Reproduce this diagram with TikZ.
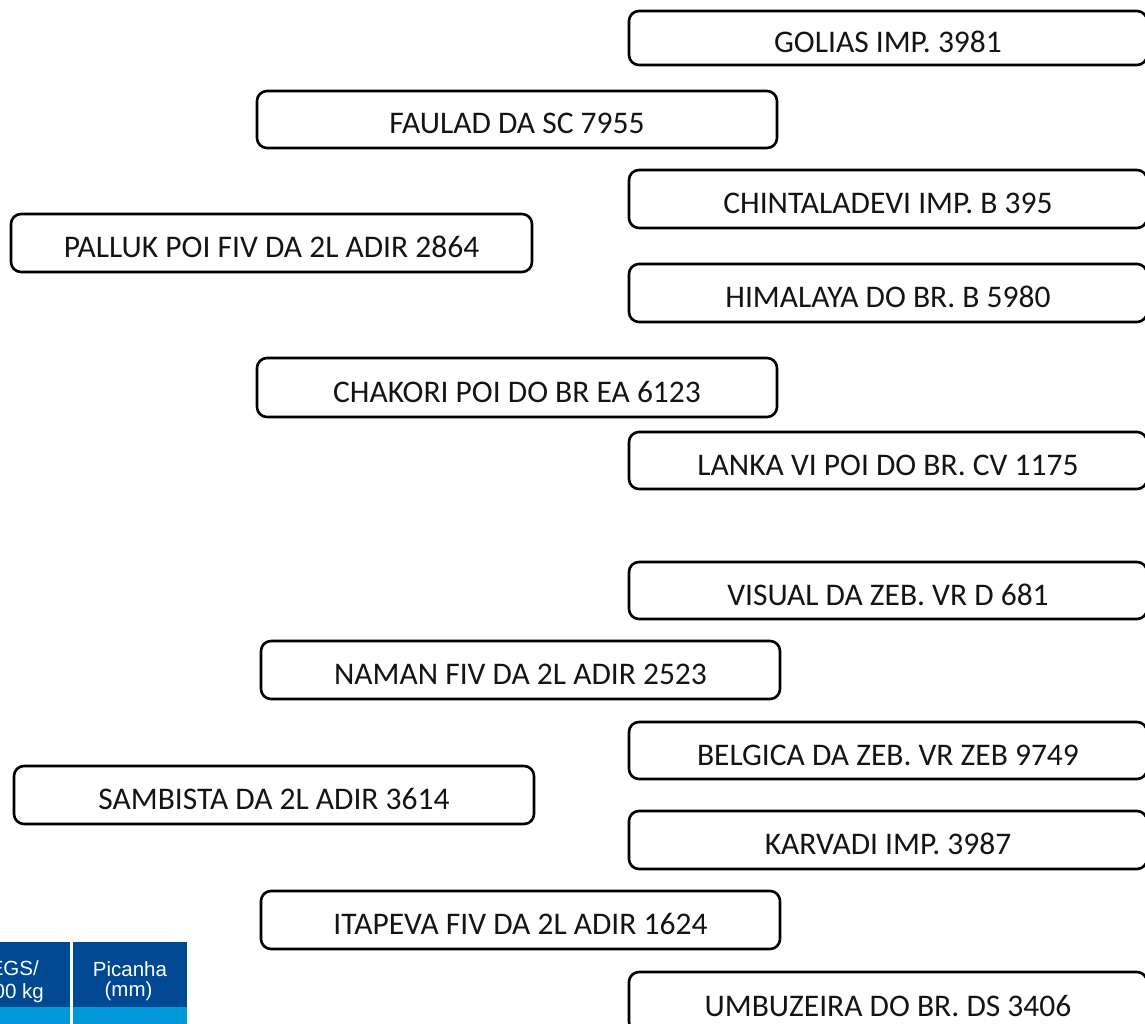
\documentclass[tikz,border=0pt]{standalone}
\usepackage{fontspec}
\setmainfont{Carlito}
\newfontfamily\arialf{Liberation Sans}
\definecolor{tabdark}{RGB}{0,73,146}
\definecolor{tablight}{RGB}{0,153,216}
\definecolor{boxtext}{RGB}{20,20,20}
\tikzset{
  namebox/.style={draw=black, line width=2.6pt, rounded corners=10pt, inner sep=0pt,
    text=boxtext, font=\fontsize{31.5}{36}\selectfont, text height=29pt, text depth=0pt},
  tabhead/.style={text=white, font=\arialf\fontsize{20.5}{23}\selectfont, inner sep=0pt, anchor=base}
}
\begin{document}
\begin{tikzpicture}[x=1pt,y=-1pt]
\useasboundingbox (0,0) rectangle (1145,1024);
\clip (0,0) rectangle (1145,1024);
% boxes on the right column
\node[namebox, minimum width=518pt, minimum height=54pt] (golias) at (888,38) {GOLIAS IMP. 3981};
\node[namebox, minimum width=518pt, minimum height=58pt] (chinta) at (888,199) {CHINTALADEVI IMP. B 395};
\node[namebox, minimum width=518pt, minimum height=58pt] (himal) at (888,293) {HIMALAYA DO BR. B 5980};
\node[namebox, minimum width=518pt, minimum height=57pt] (lanka) at (888,460.5) {LANKA VI POI DO BR. CV 1175};
\node[namebox, minimum width=518pt, minimum height=57pt] (visual) at (888,590.5) {VISUAL DA ZEB. VR D 681};
\node[namebox, minimum width=518pt, minimum height=57pt] (belgica) at (888,750.5) {BELGICA DA ZEB. VR ZEB 9749};
\node[namebox, minimum width=518pt, minimum height=58pt] (karvadi) at (888,840) {KARVADI IMP. 3987};
\node[namebox, minimum width=518pt, minimum height=60pt] (umbu) at (888,1002) {UMBUZEIRA DO BR. DS 3406};
% middle column
\node[namebox, minimum width=520pt, minimum height=57pt] (faulad) at (517,119.5) {FAULAD DA SC 7955};
\node[namebox, minimum width=520pt, minimum height=59pt] (chakori) at (517,387.5) {CHAKORI POI DO BR EA 6123};
\node[namebox, minimum width=519pt, minimum height=58pt] (naman) at (520.5,670) {NAMAN FIV DA 2L ADIR 2523};
\node[namebox, minimum width=519pt, minimum height=58pt] (itapeva) at (520.5,920) {ITAPEVA FIV DA 2L ADIR 1624};
% left column
\node[namebox, minimum width=521pt, minimum height=58pt] (palluk) at (271.5,243) {PALLUK POI FIV DA 2L ADIR 2864};
\node[namebox, minimum width=520pt, minimum height=58pt] (sambista) at (274,795) {SAMBISTA DA 2L ADIR 3614};
% table fragment
\fill[tabdark] (0,942) rectangle (187,1007);
\fill[tablight] (0,1007) rectangle (187,1024);
\draw[white, line width=2.4pt] (71.5,942) -- (71.5,1024);
\node[tabhead, anchor=base east] (egs) at (39,975.5) {EGS/};
\node[tabhead, anchor=base east] (kg) at (44,998) {00 kg};
\node[tabhead] (picanha) at (130,976.5) {Picanha};
\node[tabhead] (mm) at (128.5,996) {(mm)};
\end{tikzpicture}
\end{document}
